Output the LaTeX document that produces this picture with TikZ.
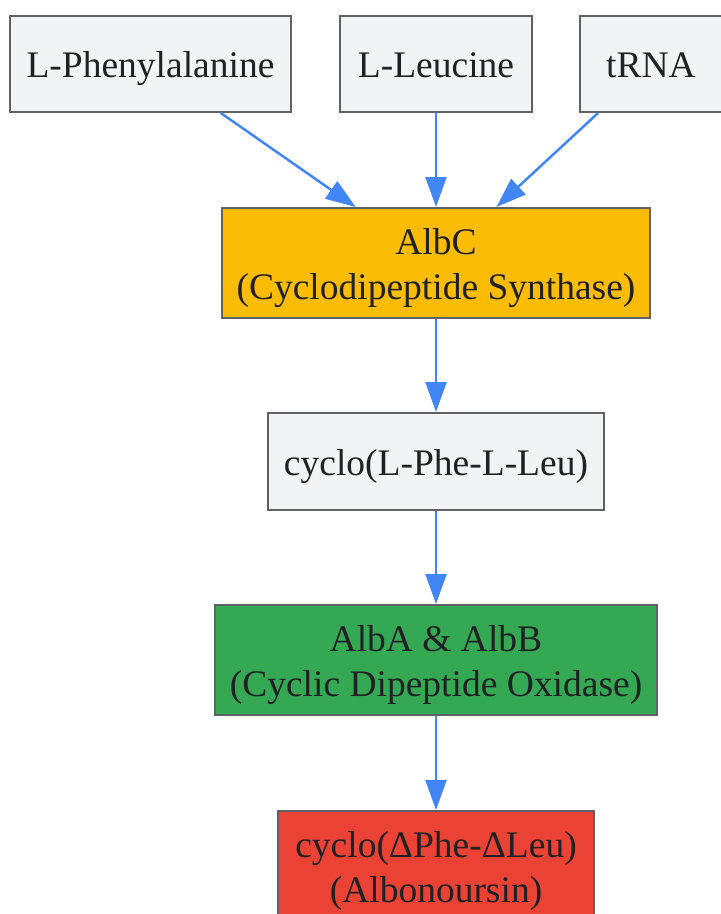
\documentclass[tikz,border=0pt]{standalone}
\usepackage{fontspec}
\setmainfont{Liberation Serif}
\usetikzlibrary{arrows.meta}
\definecolor{boxgray}{HTML}{F1F3F4}
\definecolor{boxedge}{HTML}{5F6368}
\definecolor{ink}{HTML}{202124}
\definecolor{flowblue}{HTML}{4285F4}
\definecolor{synthyellow}{HTML}{FABC05}
\definecolor{oxgreen}{HTML}{34A853}
\definecolor{prodred}{HTML}{EA4335}
\begin{document}
\begin{tikzpicture}[x=1pt, y=-1pt, font=\fontsize{37.5}{45}\selectfont, text=ink,
  box/.style={draw=boxedge, line width=2pt, fill=boxgray, align=center, inner sep=0pt,
    minimum height=96pt, text height=27pt, text depth=0pt},
  twoline/.style={minimum height=110pt, text height=72pt},
  flow/.style={-{Triangle[length=30pt,width=21pt]}, draw=flowblue, line width=2.5pt}]
\useasboundingbox (0,0) rectangle (721,914);
% substrates
\node[box, minimum width=281pt] (phe) at (150.5,64) {L-Phenylalanine};
\node[box, minimum width=192pt] (leu) at (436,64) {L-Leucine};
\node[box, minimum width=142pt] (trna) at (651,64) {tRNA};
% enzymes and products
\node[box, twoline, fill=synthyellow, minimum width=428pt] (albc) at (436,263) {AlbC\\(Cyclodipeptide Synthase)};
\node[box, minimum width=336pt, minimum height=97pt] (cfl) at (436,461.5) {cyclo(L-Phe-L-Leu)};
\node[box, twoline, fill=oxgreen, minimum width=442pt] (albab) at (436,660) {AlbA \& AlbB\\(Cyclic Dipeptide Oxidase)};
\node[box, twoline, fill=prodred, minimum width=316pt] (albo) at (436,866) {cyclo(ΔPhe-ΔLeu)\\(Albonoursin)};
% arrows
\draw[flow] (phe) -- (albc);
\draw[flow] (leu) -- (albc);
\draw[flow] (trna) -- (albc);
\draw[flow] (albc) -- (cfl);
\draw[flow] (cfl) -- (albab);
\draw[flow] (albab) -- (albo);
\end{tikzpicture}
\end{document}
